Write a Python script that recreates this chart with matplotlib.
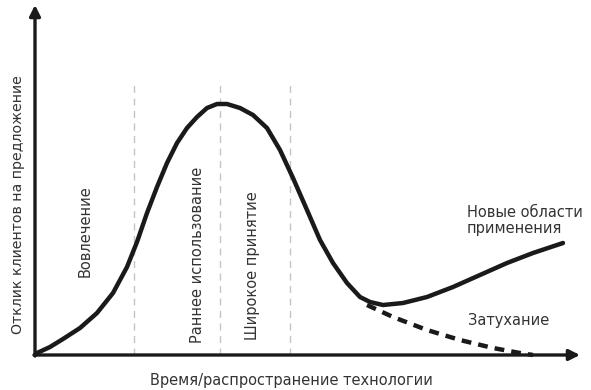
import numpy as np
import matplotlib
matplotlib.use('Agg')
import matplotlib.pyplot as plt

# main curve: time vs customer response
time = [0, 2, 15, 28, 45, 62, 78, 92, 102, 112, 122, 132, 142, 152, 162, 172, 182, 192,
        205, 218, 232, 245, 258, 272, 285, 298, 312, 325, 335, 348, 368, 392, 418, 445,
        472, 498, 528]
response = [0, 2, 8, 16, 27, 42, 62, 88, 113, 142, 168, 192, 212, 227, 238, 247, 251, 251,
            247, 240, 227, 205, 177, 145, 115, 92, 72, 58, 53, 50, 52, 58, 68, 80,
            92, 102, 112]

# fading branch
fade_time = [332, 358, 392, 425, 458, 485, 498]
fade_response = [50, 38, 25, 15, 7, 2, 0]

# phase borders
phase_x = [99, 185, 255]
phase_top = 273

phase_labels = ['Вовлечение', 'Раннее использование', 'Широкое принятие']
phase_label_pos = [(50, 124), (162, 100), (218, 89)]

txt_color = '#333333'
line_color = '#1a1a1a'

fig = plt.figure(figsize=(5.91, 3.90), dpi=100)
ax = fig.add_axes([0, 0, 1, 1])
ax.set_xlim(-35, 556)
ax.set_ylim(-35, 355)
ax.axis('off')

for x in phase_x:
    ax.plot([x, x], [0, phase_top], color='#c4c4c4', lw=1, dashes=(5, 4))

ax.plot(time, response, color=line_color, lw=3.2, solid_joinstyle='round',
        solid_capstyle='round', zorder=3)
ax.plot(fade_time, fade_response, color=line_color, lw=3.2, dashes=(2.2, 1.6), zorder=3)

# axes arrows
ax.annotate('', xy=(0, 350), xytext=(0, -1),
            arrowprops=dict(arrowstyle='-|>', lw=2.4, color=line_color, mutation_scale=16,
                            shrinkA=0, shrinkB=0))
ax.annotate('', xy=(545, 0), xytext=(-1, 0),
            arrowprops=dict(arrowstyle='-|>', lw=2.4, color=line_color, mutation_scale=16,
                            shrinkA=0, shrinkB=0))

for lab, (x, y) in zip(phase_labels, phase_label_pos):
    ax.text(x, y, lab, rotation=90, ha='center', va='center', fontsize=10.5, color=txt_color)

ax.text(432, 150, 'Новые области\nприменения', ha='left', va='top', fontsize=10.5,
        color=txt_color, linespacing=1.1)
ax.text(433, 35, 'Затухание', ha='left', va='center', fontsize=10.5, color=txt_color)

ax.text(256, -25, 'Время/распространение технологии', ha='center', va='center',
        fontsize=10.5, color=txt_color)
ax.text(-17, 150, 'Отклик клиентов на предложение', rotation=90, ha='center', va='center',
        fontsize=10.2, color=txt_color)

fig.savefig('out.png', dpi=100)
